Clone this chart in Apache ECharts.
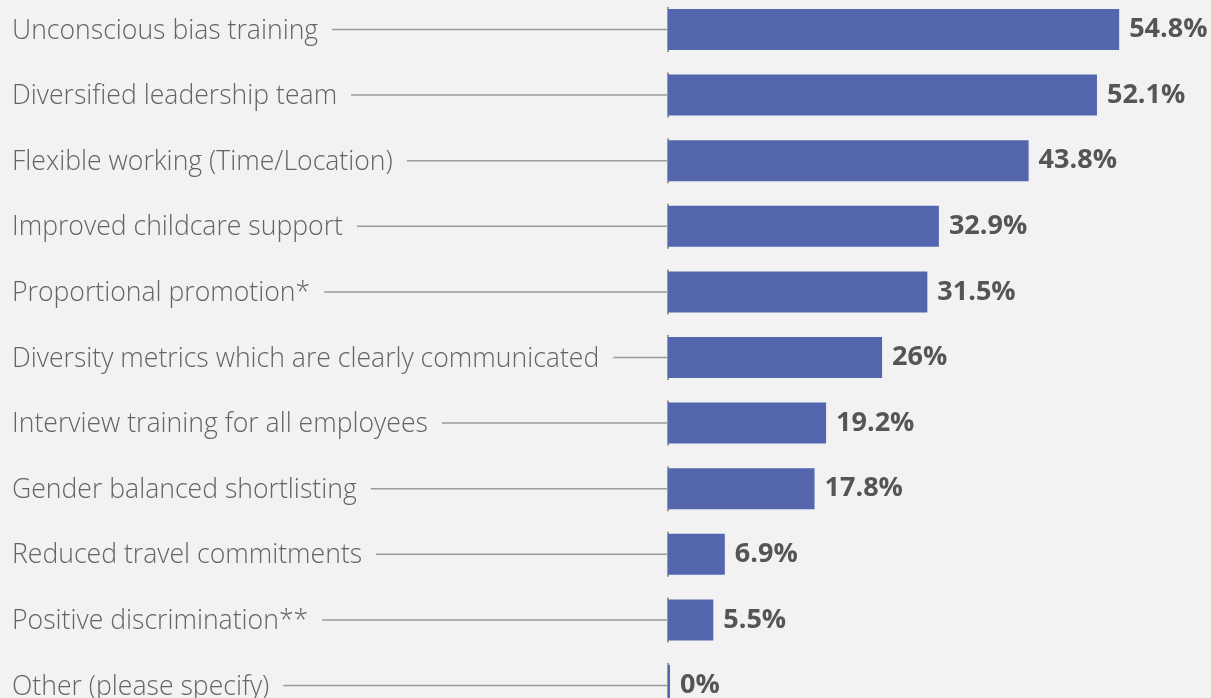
<!DOCTYPE html>
<html>
<head>
<meta charset="utf-8">
<script src="https://cdn.jsdelivr.net/npm/echarts@6/dist/echarts.min.js"></script>
<style>
  html, body { margin: 0; padding: 0; background: #f2f2f2; }
  #chart { width: 1211px; height: 698px; }
</style>
</head>
<body>
<div id="chart"></div>
<script>
// Measures that would help increase the share of women in the workplace (% of respondents)
const categories = [
  'Unconscious bias training',
  'Diversified leadership team',
  'Flexible working (Time/Location)',
  'Improved childcare support',
  'Proportional promotion*',
  'Diversity metrics which are clearly communicated',
  'Interview training for all employees',
  'Gender balanced shortlisting',
  'Reduced travel commitments',
  'Positive discrimination**',
  'Other (please specify)'
];
const values = [54.8, 52.1, 43.8, 32.9, 31.5, 26, 19.2, 17.8, 6.9, 5.5, 0];

const LABEL_FONT = '300 26.6px "Open Sans"';
const LABEL_X = 12;
const BAR_W = 41;

// text widths for the leader lines
const ctx = document.createElement('canvas').getContext('2d');
ctx.font = LABEL_FONT;
const textWidths = categories.map(c => ctx.measureText(c).width);

const chart = echarts.init(document.getElementById('chart'));

function renderLeader(params, api) {
  const idx = api.value(0);
  const p = api.coord([0, idx]);
  const x0 = LABEL_X + textWidths[idx] + 14;
  return {
    type: 'group',
    children: [
      {
        type: 'text',
        style: {
          x: LABEL_X, y: p[1] + 1.5,
          text: categories[idx],
          font: LABEL_FONT,
          fill: '#646464',
          verticalAlign: 'middle',
          align: 'left'
        }
      },
      {
        type: 'line',
        shape: { x1: x0, y1: p[1], x2: p[0], y2: p[1] },
        style: { stroke: '#9a9a9a', lineWidth: 1.5 }
      },
      {
        type: 'line',
        shape: { x1: p[0], y1: p[1] - BAR_W / 2 - 2, x2: p[0], y2: p[1] + BAR_W / 2 + 2 },
        style: { stroke: '#9a9a9a', lineWidth: 2 }
      }
    ]
  };
}

chart.setOption({
  backgroundColor: '#f2f2f2',
  animation: false,
  grid: {
    left: 668, width: 494, top: -3.3, height: 721.6,
    containLabel: false, outerBoundsMode: 'none'
  },
  xAxis: {
    type: 'value', min: 0, max: 60,
    show: false
  },
  yAxis: {
    type: 'category', data: categories, inverse: true,
    axisLine: { show: false }, axisTick: { show: false },
    axisLabel: { show: false }, splitLine: { show: false }
  },
  series: [
    {
      type: 'custom',
      renderItem: renderLeader,
      data: categories.map((c, i) => [i]),
      encode: { y: 0 },
      z: 1,
      silent: true
    },
    {
      type: 'bar',
      data: values,
      barWidth: BAR_W,
      barMinHeight: 2,
      itemStyle: { color: '#5366ae' },
      z: 2,
      label: {
        show: true,
        position: 'right',
        distance: 10,
        formatter: p => p.value + '%',
        fontFamily: 'Open Sans',
        fontWeight: 'bold',
        fontSize: 27,
        color: '#555555'
      }
    }
  ]
});
</script>
</body>
</html>
